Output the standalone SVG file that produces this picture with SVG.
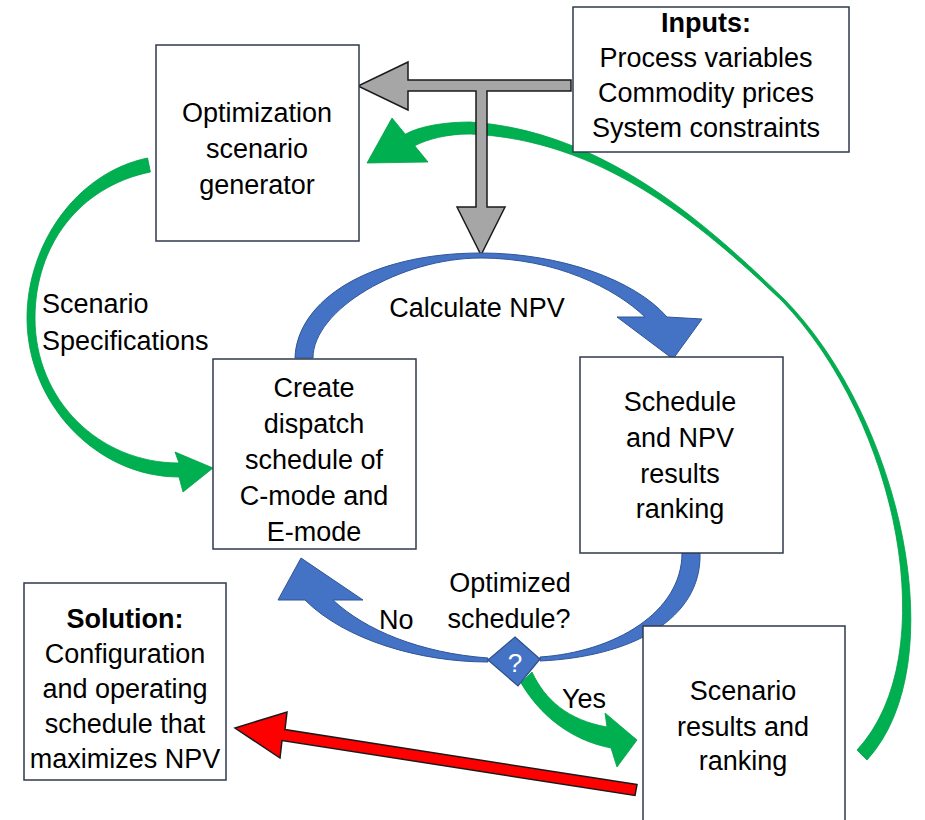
<svg xmlns="http://www.w3.org/2000/svg" width="925" height="820" viewBox="0 0 925 820">
<style>
.box{fill:#fff;stroke:#2f3a4f;stroke-width:1.5}
.t{font-family:"Liberation Sans",Arial,sans-serif;font-size:27px;fill:#000;text-anchor:middle}
.l{font-family:"Liberation Sans",Arial,sans-serif;font-size:27px;fill:#000}
.b{font-weight:bold}
.green{fill:#00b050;stroke:#00a048;stroke-width:0.8}
.blue{fill:#4472c4;stroke:#2f5597;stroke-width:1}
.grey{fill:#a6a6a6;stroke:#1a1a1a;stroke-width:1.5;stroke-linejoin:miter}
.red{fill:#ff0000;stroke:#1a1a1a;stroke-width:1.5}
</style>
<rect width="925" height="820" fill="#fff"/>
<g id="connectors">
  <!-- big green feedback arc -->
  <path class="green" d="M867,760 C955,664 902,419 784,299 C701.4,218.6 600,130.5 470,122 C445,122 420,126 405.3,134.2 L392,118 L367,163 L428,162 L414.7,145.8 C428,139 447,134 470,134 C600,139.5 698.6,221.4 782,301 C898,421 945,656 857,750 Z"/>
  <!-- grey input arrows -->
  <path class="grey" d="M571,80 L408,80 L408,62 L358,86 L408,110 L408,91 L476,91 L476,207 L457,207 L481,255 L505,207 L487,207 L487,91 L571,91 Z"/>
  <!-- scenario specifications arrow -->
  <path class="green" d="M147.6,158 C76,172.7 27,245 27,318 C27,404 97,477 179,477 L183,492 L213,468 L175,452 L179,463 C99,463 35,400 35,318 C35,246 79,186.5 150.4,172 Z"/>
  <!-- calculate NPV arc -->
  <path class="blue" d="M295,358 C297,300 370,253 481,253 C560,253 635,280 667,317 L702,319 L673,359 L617,317 L645,317 C615,288 555,258 481,258 C400,258 313,310 313,358 Z"/>
  <!-- right blue body to diamond -->
  <path class="blue" d="M700,553 C702,620 630,657 540,661 L540,657 C615,652 682,612 682,553 Z"/>
  <!-- left blue body from diamond (No) -->
  <path class="blue" d="M488,662 C420,662 345,640 305,600 L278,600 L301,558 L363,600 L333,600 C365,630 420,653 488,658 Z"/>
  <!-- Yes green arrow -->
  <path class="green" d="M532,672 C545,700 568,720 607,727 L605,713 L637,740 L617,767 L611,748 C570,740 540,715 521,683 Z"/>
  <!-- red solution arrow -->
  <path class="red" d="M637,784.6 L285,729.5 L287,712 L235,728 L280,758 L282,740.5 L635,795.4 Z"/>
</g>
<g id="node-generator">
  <rect class="box" x="156" y="45" width="203" height="196"/>
  <text class="t" x="257" y="122">Optimization</text>
  <text class="t" x="257" y="158">scenario</text>
  <text class="t" x="257" y="194">generator</text>
</g>
<g id="node-inputs">
  <rect class="box" x="573" y="7" width="276" height="145"/>
  <text class="t b" x="706" y="32">Inputs:</text>
  <text class="t" x="706" y="67">Process variables</text>
  <text class="t" x="706" y="102">Commodity prices</text>
  <text class="t" x="706" y="137">System constraints</text>
</g>
<g id="node-dispatch">
  <rect class="box" x="213" y="359" width="203" height="190"/>
  <text class="t" x="314" y="397">Create</text>
  <text class="t" x="314" y="433">dispatch</text>
  <text class="t" x="314" y="469">schedule of</text>
  <text class="t" x="314" y="505">C-mode and</text>
  <text class="t" x="314" y="541">E-mode</text>
</g>
<g id="node-ranking">
  <rect class="box" x="580" y="357" width="203" height="196"/>
  <text class="t" x="680" y="411">Schedule</text>
  <text class="t" x="680" y="447">and NPV</text>
  <text class="t" x="680" y="483">results</text>
  <text class="t" x="680" y="518">ranking</text>
</g>
<g id="node-solution">
  <rect class="box" x="24" y="583" width="202" height="197"/>
  <text class="t b" x="125" y="628">Solution:</text>
  <text class="t" x="125" y="663">Configuration</text>
  <text class="t" x="125" y="698">and operating</text>
  <text class="t" x="125" y="733">schedule that</text>
  <text class="t" x="125" y="768">maximizes NPV</text>
</g>
<g id="node-scenario-results">
  <rect class="box" x="643" y="626" width="202" height="200"/>
  <text class="t" x="743" y="700">Scenario</text>
  <text class="t" x="743" y="736">results and</text>
  <text class="t" x="743" y="770">ranking</text>
</g>
<g id="node-decision">
  <path class="blue" d="M515,637 L540,659 L518,686 L488,660 Z" style="stroke:#2f4f86;stroke-width:1.2"/>
  <text x="515" y="672" style="font-family:'Liberation Sans',Arial,sans-serif;font-size:26px;fill:#fff;text-anchor:middle">?</text>
</g>
<g id="labels">
  <text class="l" x="42" y="313">Scenario</text>
  <text class="l" x="42" y="350">Specifications</text>
  <text class="t" x="477" y="317">Calculate NPV</text>
  <text class="t" x="510" y="592">Optimized</text>
  <text class="t" x="509" y="628">schedule?</text>
  <text class="l" x="379" y="629">No</text>
  <text class="l" x="562" y="708">Yes</text>
</g>
</svg>
